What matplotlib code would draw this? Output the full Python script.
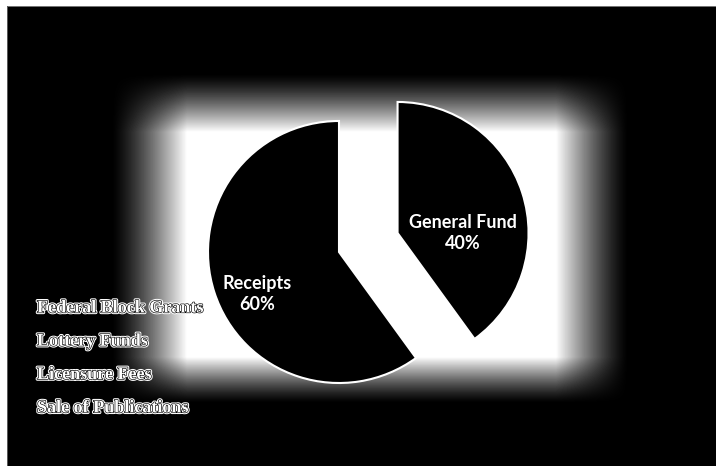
import numpy as np
import matplotlib.pyplot as plt
import matplotlib.patheffects as pe

# funding split for the pie
slices = ["General Fund", "Receipts"]
shares = [40, 60]

# where the receipts come from
receipt_sources = ["Federal Block Grants", "Lottery Funds",
                   "Licensure Fees", "Sale of Publications"]

W, H = 716, 466


def up(y):
    # pixel rows are counted from the top, the axes count from the bottom
    return H - y


fig = plt.figure(figsize=(W / 100, H / 100), dpi=100, facecolor="white")
ax = fig.add_axes([0, 0, 1, 1])

# black slide with a soft white glow behind the pie
xs = np.arange(W) + 0.5
ys = np.arange(H) + 0.5
rx = np.clip((xs - 112) / 75, 0, 1) * np.clip((628 - xs) / 72, 0, 1)
ry = np.clip((ys - 74) / 58, 0, 1) * np.clip((403 - ys) / 46, 0, 1)
glow = np.outer(ry, rx) ** 1.3
glow[:6, :] = 1.0
glow[:, :7] = 1.0
glow[6, 7:] = 0.45
glow[6:, 7] = 0.35
ax.imshow(glow, cmap="gray", vmin=0, vmax=1, extent=(0, W, 0, H),
          origin="upper", interpolation="bilinear", zorder=0)

center = (339, up(252))
radius = 131
# explode is in data units here, so scale it by the radius
wedges, _ = ax.pie(shares, explode=[0.47 * radius, 0], startangle=90,
                   counterclock=False, center=center, radius=radius,
                   colors=["black", "black"],
                   wedgeprops=dict(edgecolor="white", linewidth=1.5))
for w in wedges:
    w.set_zorder(2)

# slice labels: (fraction of radius, angle in degrees) from each wedge's centre
label_spots = [(0.5, 0), (0.70, 207)]
for w, name, pct, (dist, ang) in zip(wedges, slices, shares, label_spots):
    cx, cy = w.center
    tx = cx + dist * radius * np.cos(np.radians(ang))
    ty = cy + dist * radius * np.sin(np.radians(ang))
    ax.text(tx, ty, f"{name}\n{pct}%", ha="center", va="center",
            color="white", fontsize=13, fontweight="bold", family="Lato",
            linespacing=1.3, zorder=3)

outline = [pe.Stroke(linewidth=2.4, foreground="white"),
           pe.Stroke(linewidth=0.9, foreground="black"),
           pe.Normal()]
for i, src in enumerate(receipt_sources):
    ax.text(37, up(308 + 33.3 * i), src, ha="left", va="center",
            color="white", fontsize=13, fontweight="bold",
            family="Liberation Serif", path_effects=outline, zorder=3)

ax.set_xlim(0, W)
ax.set_ylim(0, H)
ax.set_aspect("auto")
ax.axis("off")

fig.savefig("out.png", dpi=100, facecolor="white")
